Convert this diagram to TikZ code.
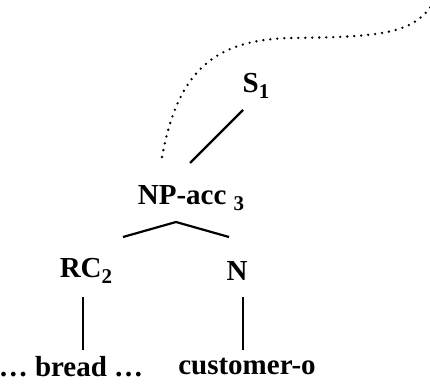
\documentclass[tikz,border=0pt]{standalone}
\usepackage{fontspec}
\setmainfont{Liberation Serif}
\newcommand\subx[1]{\raisebox{-0.2em}{\fontsize{21}{24}\selectfont #1}}
\begin{document}
\begin{tikzpicture}[x=1pt,y=-1pt,
  lbl/.style={font=\fontsize{29}{33}\selectfont\bfseries, inner sep=0pt, anchor=center},
  branch/.style={line width=2.2pt},
  trace/.style={line width=2.6pt, line cap=round, dash pattern=on 0pt off 7pt}]
\useasboundingbox (0,0) rectangle (430,385);
\node[lbl] (S) at (256,86) {S\subx{1}};
\node[lbl] (NP) at (191,198) {NP-acc \subx{3}};
\node[lbl] (RC) at (86,271) {RC\subx{2}};
\node[lbl] (N) at (237,271) {N};
\node[lbl] (bread) at (71,367) {… bread …};
\node[lbl] (cust) at (247,367) {customer-o};
\coordinate (tail) at (432,5);
\draw[branch] ([shift={(-13,24)}]S.center) -- ([shift={(-1,-35)}]NP.center);
\draw[branch] ([shift={(37,-34)}]RC.center) -- ([shift={(-15,24)}]NP.center) -- ([shift={(-8,-34)}]N.center);
\draw[branch] ([shift={(-3,26)}]RC.center) -- ([shift={(12,-17)}]bread.center);
\draw[branch] ([shift={(6,26)}]N.center) -- ([shift={(-4,-17)}]cust.center);
\draw[trace] ([shift={(-29,-41)}]NP.center) .. controls (178,70) and (215,40) .. (290,38) .. controls (380,37) and (412,34) .. (tail);
\end{tikzpicture}
\end{document}
